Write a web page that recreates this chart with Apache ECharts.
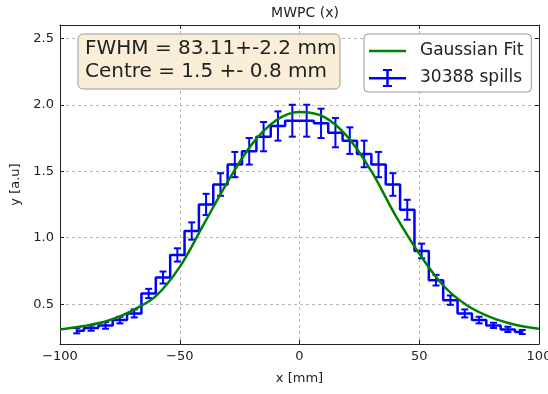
<!DOCTYPE html>
<html>
<head>
<meta charset="utf-8">
<script src="https://cdn.jsdelivr.net/npm/echarts@6/dist/echarts.min.js"></script>
<style>
  html, body { margin: 0; padding: 0; background: #fff; }
  #chart { width: 548px; height: 394px; }
</style>
</head>
<body>
<div id="chart"></div>
<script>
// bin centres [mm], 6 mm wide
const binCentres = [-93, -87, -81, -75, -69, -63, -57, -51, -45, -39, -33, -27, -21, -15, -9, -3,
                    3, 9, 15, 21, 27, 33, 39, 45, 51, 57, 63, 69, 75, 81, 87, 93]
const counts = [0.30, 0.32, 0.34, 0.38, 0.43, 0.58, 0.70, 0.87, 1.05, 1.25, 1.40, 1.55, 1.65, 1.76, 1.84, 1.88,
                1.88, 1.86, 1.79, 1.73, 1.63, 1.55, 1.40, 1.21, 0.90, 0.68, 0.53, 0.43, 0.38, 0.34, 0.31, 0.29]
const errors = [0.02, 0.02, 0.025, 0.025, 0.03, 0.035, 0.045, 0.05, 0.065, 0.08, 0.085, 0.095, 0.10, 0.11, 0.11, 0.12,
                0.12, 0.11, 0.11, 0.10, 0.10, 0.095, 0.085, 0.075, 0.055, 0.04, 0.035, 0.03, 0.025, 0.02, 0.02, 0.015]

// fitted curve
const fitX = [-100, -90, -80, -70, -60, -50, -40, -30, -20, -10, 0, 10, 20, 30, 40, 50, 60, 70, 80, 90, 100]
const fitY = [0.31, 0.335, 0.375, 0.45, 0.56, 0.78, 1.10, 1.42, 1.70, 1.88, 1.945, 1.91, 1.76, 1.50, 1.17, 0.88, 0.64, 0.49, 0.40, 0.345, 0.315]

const yTicks = [0.5, 1.0, 1.5, 2.0, 2.5]

const FONT = 'DejaVu Sans'
const BLUE = '#0000ff'
const GREEN = '#008000'

const chart = echarts.init(document.getElementById('chart'))

const tickStyle = { show: true, inside: true, length: 4, lineStyle: { color: '#222' } }
const frame = { show: true, onZero: false, lineStyle: { color: '#222', width: 1 } }
const gridLine = { show: true, lineStyle: { color: '#b8b8b8', type: [3, 3], width: 1 } }
const minus = (v) => String(v).replace('-', '\u2212')

const errorBars = (params, api) => {
  const x = api.value(0), y = api.value(1), e = api.value(2)
  const top = api.coord([x, y + e])
  const bot = api.coord([x, y - e])
  const hw = 3.5
  const st = { stroke: BLUE, lineWidth: 2 }
  return {
    type: 'group',
    children: [
      { type: 'line', shape: { x1: top[0], y1: top[1], x2: bot[0], y2: bot[1] }, style: st },
      { type: 'line', shape: { x1: top[0] - hw, y1: top[1], x2: top[0] + hw, y2: top[1] }, style: st },
      { type: 'line', shape: { x1: bot[0] - hw, y1: bot[1], x2: bot[0] + hw, y2: bot[1] }, style: st }
    ]
  }
}

chart.setOption({
  animation: false,
  textStyle: { fontFamily: FONT },
  title: {
    text: 'MWPC (x)',
    left: 300, top: 1, textAlign: 'center',
    textStyle: { fontFamily: FONT, fontSize: 14, fontWeight: 'normal', color: '#222' }
  },
  grid: { left: 60, right: 9, top: 25, bottom: 50, outerBoundsMode: 'none' },
  legend: {
    orient: 'vertical',
    left: 364, top: 34,
    padding: [8, 8, 5, 5],
    itemGap: 9,
    itemWidth: 37, itemHeight: 18,
    borderColor: '#999', borderWidth: 1, borderRadius: 4,
    backgroundColor: '#fff',
    textStyle: { fontFamily: FONT, fontSize: 17, color: '#222', padding: [0, 0, 0, 9] },
    data: [
      { name: 'Gaussian Fit', icon: 'path://M0,0h0.01v0.01h-0.01z M0,7.75h37v2.5h-37z M36.99,17.99h0.01v0.01h-0.01z', itemStyle: { color: GREEN } },
      { name: '30388 spills', icon: 'path://M0,8h37v2.5h-37z M17.25,0h2.5v18h-2.5z M14,0h9v2h-9z M14,16h9v2h-9z', itemStyle: { color: BLUE } }
    ]
  },
  xAxis: [
    {
      type: 'value', min: -100, max: 100, interval: 50,
      name: 'x [mm]', nameLocation: 'middle', nameGap: 28,
      nameTextStyle: { fontFamily: FONT, fontSize: 13, color: '#222' },
      axisLine: frame, axisTick: tickStyle, splitLine: gridLine,
      axisLabel: { fontFamily: FONT, fontSize: 13, color: '#222', margin: 6, formatter: minus }
    },
    {
      type: 'value', position: 'top', min: -100, max: 100, interval: 50,
      axisLine: frame, axisTick: tickStyle, splitLine: { show: false }, axisLabel: { show: false }
    }
  ],
  yAxis: [
    {
      type: 'value', min: 0.2, max: 2.6,
      name: 'y [a.u]', nameLocation: 'middle', nameGap: 34, nameRotate: 90,
      nameTextStyle: { fontFamily: FONT, fontSize: 13, color: '#222' },
      axisLine: frame,
      axisTick: Object.assign({}, tickStyle, { customValues: yTicks }),
      splitLine: gridLine,
      axisLabel: { fontFamily: FONT, fontSize: 13, color: '#222', margin: 6, customValues: yTicks, formatter: (v) => v.toFixed(1) }
    },
    {
      type: 'value', position: 'right', min: 0.2, max: 2.6,
      axisLine: frame,
      axisTick: Object.assign({}, tickStyle, { customValues: yTicks }),
      splitLine: { show: false }, axisLabel: { show: false }
    }
  ],
  series: [
    {
      name: '30388 spills',
      type: 'line',
      step: 'middle',
      data: binCentres.map((c, i) => [c, counts[i]]),
      symbol: 'none',
      lineStyle: { color: BLUE, width: 2.5 },
      itemStyle: { color: BLUE },
      z: 2
    },
    {
      name: '30388 spills',
      type: 'custom',
      renderItem: errorBars,
      data: binCentres.map((c, i) => [c, counts[i], errors[i]]),
      itemStyle: { color: BLUE },
      z: 3
    },
    {
      name: 'Gaussian Fit',
      type: 'line',
      data: fitX.map((x, i) => [x, fitY[i]]),
      smooth: 0.35,
      symbol: 'none',
      lineStyle: { color: GREEN, width: 2.5 },
      itemStyle: { color: GREEN },
      z: 4
    }
  ],
  graphic: [
    {
      type: 'rect',
      shape: { x: 78, y: 34, width: 262, height: 55, r: 5 },
      style: { fill: '#faeed9', stroke: '#999', lineWidth: 1 },
      z: 100
    },
    {
      type: 'text',
      x: 85, y: 37,
      style: {
        text: 'FWHM = 83.11+-2.2 mm\nCentre = 1.5 +- 0.8 mm',
        font: '20px "DejaVu Sans"',
        lineHeight: 23,
        fill: '#222'
      },
      z: 101
    }
  ]
})

window.addEventListener('resize', () => chart.resize())
</script>
</body>
</html>
